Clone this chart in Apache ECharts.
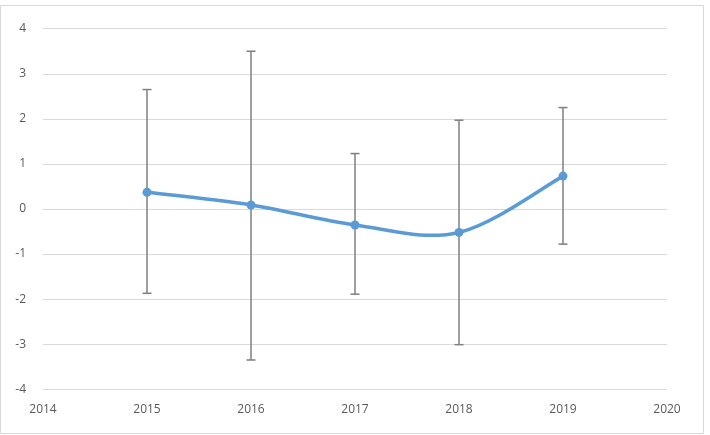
<!DOCTYPE html>
<html><head><meta charset="utf-8">
<script src="https://cdn.jsdelivr.net/npm/echarts@6/dist/echarts.min.js"></script>
<style>html,body{margin:0;padding:0;background:#fff}#c{width:710px;height:435px}</style>
</head><body><div id="c"></div>
<script>
var years = [2015, 2016, 2017, 2018, 2019];
var values = [0.37, 0.09, -0.355, -0.52, 0.73];
var errHigh = [2.65, 3.50, 1.23, 1.97, 2.25];
var errLow = [-1.87, -3.35, -1.89, -3.01, -0.78];

var chart = echarts.init(document.getElementById('c'));
var lineData = years.map(function (y, i) { return [y, values[i]]; });
var errData = years.map(function (y, i) { return [y, errLow[i], errHigh[i]]; });

function smoothPath(api) {
  var pts = lineData.map(function (d) { return api.coord(d); });
  var n = pts.length;
  var d = 'M' + pts[0][0] + ' ' + pts[0][1];
  for (var i = 0; i < n - 1; i++) {
    var p0 = pts[Math.max(i - 1, 0)], p1 = pts[i], p2 = pts[i + 1], p3 = pts[Math.min(i + 2, n - 1)];
    var c1x = p1[0] + (p2[0] - p0[0]) / 6, c1y = p1[1] + (p2[1] - p0[1]) / 6;
    var c2x = p2[0] - (p3[0] - p1[0]) / 6, c2y = p2[1] - (p3[1] - p1[1]) / 6;
    d += ' C' + c1x + ' ' + c1y + ' ' + c2x + ' ' + c2y + ' ' + p2[0] + ' ' + p2[1];
  }
  return d;
}

var labelFont = 'Open Sans, Noto Sans, sans-serif';

chart.setOption({
  animation: false,
  backgroundColor: '#fff',
  graphic: [{
    type: 'rect', shape: { x: 0.5, y: 5.5, width: 703, height: 428 },
    style: { fill: 'none', stroke: '#d9d9d9', lineWidth: 1 }, z: -1
  }],
  grid: { left: 43, right: 43, top: 28.7, bottom: 45.7 },
  xAxis: {
    type: 'value', min: 2014, max: 2020, interval: 1,
    axisLine: { show: false }, axisTick: { show: false },
    splitLine: { show: false },
    axisLabel: { color: '#595959', fontSize: 12, fontFamily: labelFont, margin: 14,
      formatter: function (v) { return String(v); } }
  },
  yAxis: {
    type: 'value', min: -4, max: 4, interval: 1,
    axisLine: { show: false }, axisTick: { show: false },
    splitLine: { lineStyle: { color: '#d9d9d9', width: 1 } },
    axisLabel: { color: '#595959', fontSize: 12, fontFamily: labelFont, margin: 17 }
  },
  series: [{
    type: 'custom',
    data: errData,
    z: 1,
    renderItem: function (params, api) {
      var x = api.value(0);
      var lo = api.coord([x, api.value(1)]);
      var hi = api.coord([x, api.value(2)]);
      var hw = 4.5;
      var st = { stroke: '#7f7f7f', lineWidth: 1.5 };
      return { type: 'group', children: [
        { type: 'line', shape: { x1: hi[0], y1: hi[1], x2: lo[0], y2: lo[1] }, style: st },
        { type: 'line', shape: { x1: hi[0] - hw, y1: hi[1], x2: hi[0] + hw, y2: hi[1] }, style: st },
        { type: 'line', shape: { x1: lo[0] - hw, y1: lo[1], x2: lo[0] + hw, y2: lo[1] }, style: st }
      ]};
    }
  }, {
    type: 'custom',
    data: [0],
    z: 2,
    renderItem: function (params, api) {
      return { type: 'path', shape: { pathData: smoothPath(api) },
        style: { fill: 'none', stroke: '#5b9bd5', lineWidth: 3.5, lineCap: 'round', lineJoin: 'round' } };
    }
  }, {
    type: 'line',
    data: lineData,
    z: 3,
    symbol: 'circle', symbolSize: 9,
    itemStyle: { color: '#5b9bd5' },
    lineStyle: { width: 0, opacity: 0 }
  }]
});
</script></body></html>
